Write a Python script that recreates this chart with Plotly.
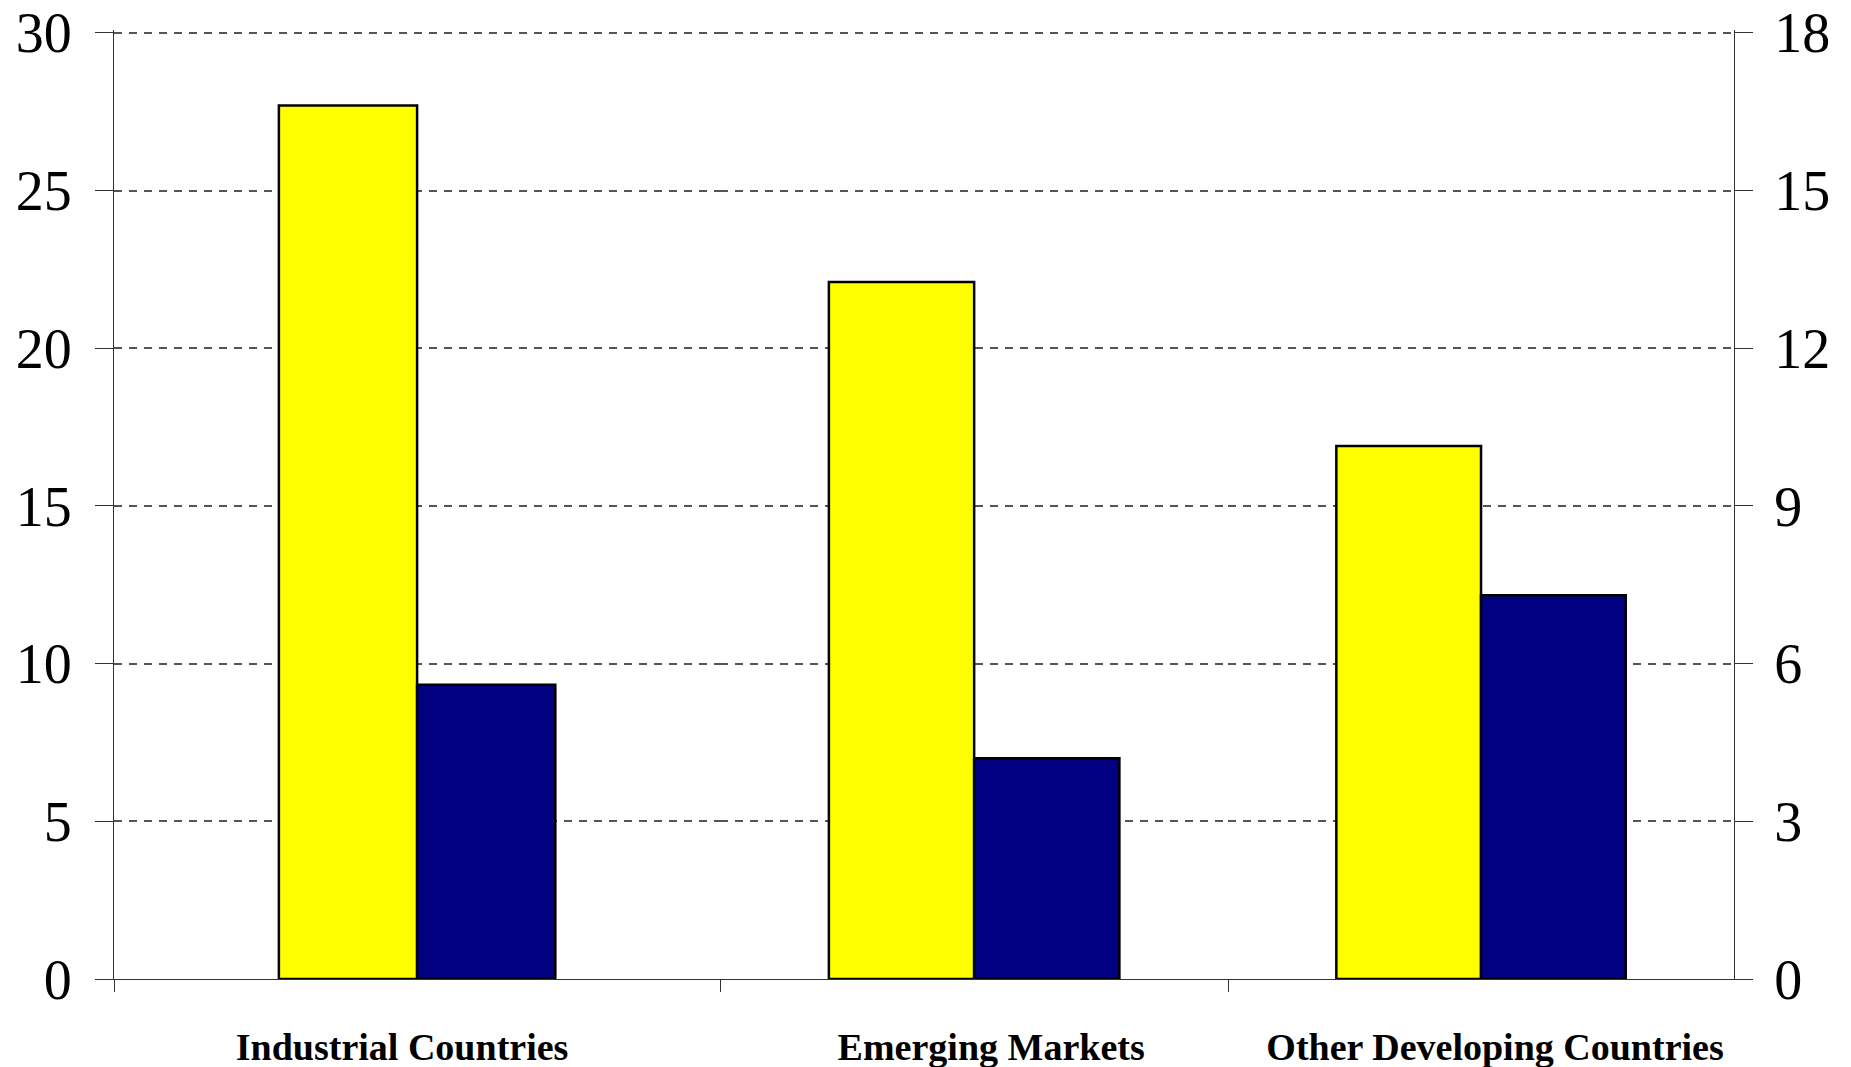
import plotly.graph_objects as go

# ---- data -------------------------------------------------------------
categories = ["Industrial Countries", "Emerging Markets", "Other Developing Countries"]
left_values = [27.7, 22.1, 16.9]      # yellow bars, left axis (0-30)
right_values = [5.6, 4.2, 7.3]        # navy bars, right axis (0-18)
left_ticks = [0, 5, 10, 15, 20, 25, 30]
right_ticks = [0, 3, 6, 9, 12, 15, 18]

# ---- styling ----------------------------------------------------------
W, H = 1851, 1067
SERIF = "Times New Roman, Liberation Serif, serif"
YELLOW = "#FFFF00"
NAVY = "#000080"
AXIS = "#333333"
GRID = "#555555"

# a little headroom so the top gridline is not clipped at the plot edge
HEAD = 1.003
left_range = [0, 30 * HEAD]
right_range = [0, 18 * HEAD]

# each category gets its own x-axis slot (unequal slot widths)
slot_domains = [[0.0, 0.3742], [0.3742, 0.6877], [0.6877, 1.0]]
bar_widths = [0.228, 0.286, 0.286]
label_shift = [-15, 17, 14]

fig = go.Figure()

for i, cat in enumerate(categories):
    xa = "x" if i == 0 else f"x{i + 1}"
    w = bar_widths[i]
    fig.add_trace(go.Bar(
        x=[cat], y=[left_values[i]], xaxis=xa, yaxis="y",
        width=w, offset=-w,
        marker=dict(color=YELLOW, line=dict(color="black", width=2.5)),
        showlegend=False, hoverinfo="x+y",
    ))
    fig.add_trace(go.Bar(
        x=[cat], y=[right_values[i]], xaxis=xa, yaxis="y2",
        width=w, offset=0,
        marker=dict(color=NAVY, line=dict(color="black", width=2.5)),
        showlegend=False, hoverinfo="x+y",
    ))

layout = dict(
    width=W, height=H,
    margin=dict(l=114, r=117, t=30, b=88, autoexpand=False),
    paper_bgcolor="white", plot_bgcolor="white",
    barmode="overlay",
    font=dict(family=SERIF, color="black"),
    yaxis=dict(
        range=left_range, tickvals=left_ticks, anchor="x",
        showline=True, linecolor=AXIS, linewidth=1.3,
        ticks="outside", ticklen=18, tickcolor=AXIS, tickwidth=1.3,
        tickfont=dict(size=56, family=SERIF, color="black"),
        ticklabelstandoff=12,
        showgrid=True, gridcolor=GRID, gridwidth=1.5, griddash="8px,7px",
        zeroline=False, fixedrange=True,
    ),
    yaxis2=dict(
        range=right_range, tickvals=right_ticks, overlaying="y", side="right",
        anchor="x3",
        showline=True, linecolor=AXIS, linewidth=1.3,
        ticks="outside", ticklen=18, tickcolor=AXIS, tickwidth=1.3,
        tickfont=dict(size=56, family=SERIF, color="black"),
        ticklabelstandoff=10,
        showgrid=False, zeroline=False, fixedrange=True,
    ),
    # inner half of the crossing ticks on the right axis
    yaxis3=dict(
        range=right_range, tickvals=right_ticks, overlaying="y", side="right",
        anchor="x3", showline=False,
        ticks="inside", ticklen=16, tickcolor=AXIS, tickwidth=1.3,
        showticklabels=False, showgrid=False, zeroline=False, fixedrange=True,
    ),
)

for i, cat in enumerate(categories):
    key = "xaxis" if i == 0 else f"xaxis{i + 1}"
    layout[key] = dict(
        domain=slot_domains[i], anchor="y", type="category",
        range=[-0.5, 0.5],
        showline=True, linecolor=AXIS, linewidth=1.3,
        ticks="outside", tickson="boundaries", ticklen=12,
        tickcolor=AXIS, tickwidth=1.3,
        tickfont=dict(size=38, family=SERIF, color="black", weight="bold"),
        ticklabelstandoff=34, ticklabelshift=label_shift[i],
        showgrid=False, zeroline=False, fixedrange=True,
    )

fig.update_layout(**layout)
fig.write_html("out.html", config=dict(displayModeBar=False))
